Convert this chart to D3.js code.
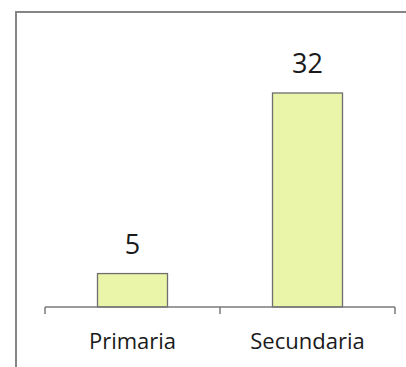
<!DOCTYPE html>
<html><head><meta charset="utf-8">
<script src="https://cdn.jsdelivr.net/npm/d3@7"></script>
<style>body{margin:0;background:#fff}svg{display:block}</style>
</head><body>
<script>
const categories = ["Primaria", "Secundaria"];
const values = [5, 32];

const W = 406, H = 367;
const svg = d3.select("body").append("svg").attr("width", W).attr("height", H);

// frame (cropped on right and bottom)
svg.append("path").attr("d", `M16,${H+2}V12H${W+2}`).attr("fill","none").attr("stroke","#858585").attr("stroke-width",2);

const x = d3.scaleBand().domain(categories).range([45, 395]).paddingInner(0.6).paddingOuter(0.3);
const y = d3.scaleLinear().domain([0, 32]).range([307, 93]);

svg.selectAll("rect.bar").data(values).join("rect").attr("class","bar")
  .attr("x",(d,i)=>x(categories[i])).attr("width",x.bandwidth())
  .attr("y",d=>y(d)).attr("height",d=>y(0)-y(d))
  .attr("fill","#ebf5a9").attr("stroke","#6e6e6e").attr("stroke-width",1.3);

// axis
const axisG = svg.append("g");
axisG.append("line").attr("x1",45).attr("x2",395).attr("y1",y(0)).attr("y2",y(0)).attr("stroke","#7a7a7a").attr("stroke-width",1.5);
const tickXs = [x.range()[0], ...categories.slice(1).map(c => x(c) - x.step()*x.paddingInner()/2), x.range()[1]];
axisG.selectAll("line.tick").data(tickXs).join("line").attr("class","tick")
  .attr("x1",d=>d).attr("x2",d=>d).attr("y1",y(0)).attr("y2",y(0)+7).attr("stroke","#7a7a7a").attr("stroke-width",1.5);

svg.selectAll("text.cat").data(categories).join("text").attr("class","cat")
  .attr("x",d=>x(d)+x.bandwidth()/2).attr("y",349).attr("text-anchor","middle")
  .attr("font-family","Open Sans").attr("font-size",22).attr("fill","#1a1a1a").text(d=>d);

svg.selectAll("text.val").data(values).join("text").attr("class","val")
  .attr("x",(d,i)=>x(categories[i])+x.bandwidth()/2).attr("y",d=>y(d)-20).attr("text-anchor","middle")
  .attr("font-family","Open Sans").attr("font-size",27).attr("fill","#1a1a1a").text(d=>d);
</script>
</body></html>
